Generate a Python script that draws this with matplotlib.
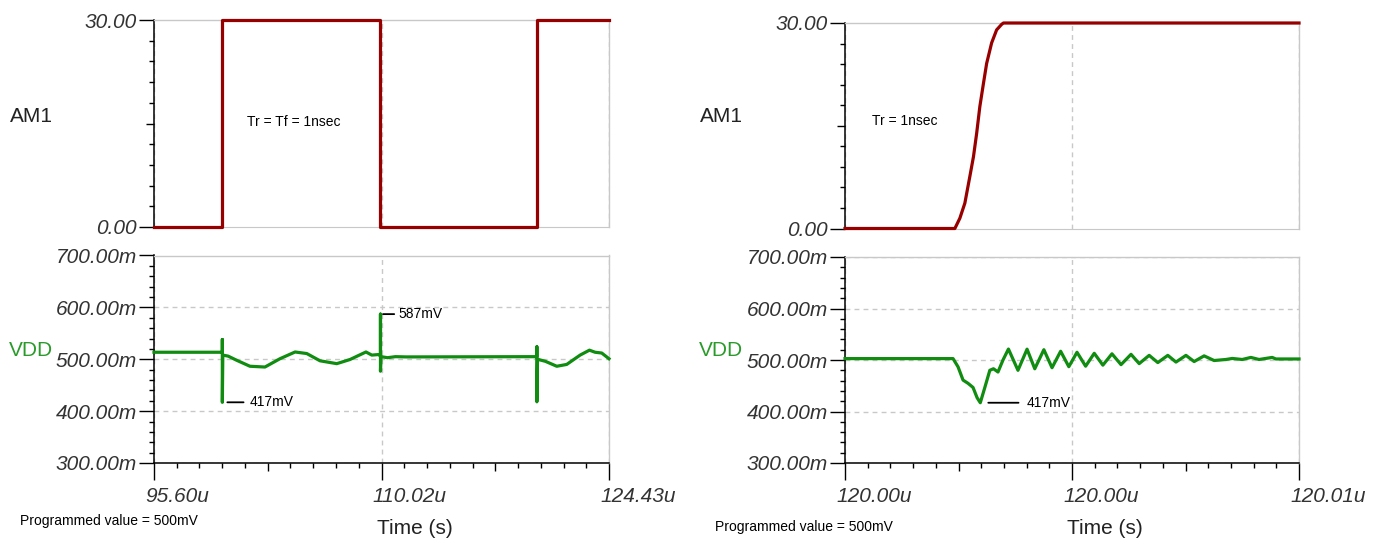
import numpy as np
import matplotlib.pyplot as plt
import matplotlib.transforms as mtransforms
from matplotlib.ticker import FixedLocator, FixedFormatter, NullFormatter

plt.rcParams['font.family'] = ['Liberation Sans', 'DejaVu Sans']

# ---- left pair: square-wave load, time in microseconds
sq_am_t = [95.60, 99.93, 99.93, 109.95, 109.95, 119.86, 119.86, 124.43]
sq_am_v = [0, 0, 30, 30, 0, 0, 30, 30]

sq_vdd_t = [95.60, 99.93, 99.93, 99.93, 99.96, 100.30, 100.84, 101.68, 102.63,
            103.58, 104.54, 105.28, 106.12, 107.18, 108.02, 109.03, 109.40,
            109.80, 109.95, 109.95, 109.95, 109.98, 110.40, 110.90, 111.60,
            119.84, 119.86, 119.86, 119.86, 119.90, 120.40, 121.12, 121.75,
            122.60, 123.19, 123.55, 123.97, 124.43]
sq_vdd_v = [513.5, 513.5, 538, 417, 508, 506, 498, 486.5, 485,
            501, 514, 511, 497, 491.5, 499.5, 514, 508,
            509, 507, 587, 477, 505, 503, 505, 504.5,
            505, 505, 524, 418, 500, 496, 486.5, 490,
            508, 517.5, 513.5, 512, 501]

# ---- right pair: single 1 ns edge, time in ns after 120.00u
edge_am_t = [0, 2.42, 2.53, 2.64, 2.75, 2.83, 2.90, 2.97, 3.05, 3.12, 3.23,
             3.34, 3.45, 3.49, 10]
edge_am_v = [0, 0, 1.5, 3.7, 7.6, 10.5, 13.9, 17.8, 21.2, 24.1, 27.1,
             29.0, 29.8, 30, 30]

edge_vdd_t = [0, 2.38, 2.49, 2.60, 2.71, 2.82, 2.91, 2.98, 3.08, 3.19, 3.27,
              3.37, 3.48, 3.60, 3.81, 4.01, 4.18, 4.38, 4.56, 4.75, 4.93,
              5.11, 5.30, 5.49, 5.68, 5.88, 6.08, 6.30, 6.48, 6.70, 6.89,
              7.11, 7.29, 7.51, 7.69, 7.91, 8.13, 8.39, 8.53, 8.75, 8.94,
              9.12, 9.41, 9.49, 10]
edge_vdd_v = [502.7, 502.7, 486.7, 461, 454.7, 446.7, 426.7, 417, 446.7, 480, 483,
              476.7, 500, 521.3, 480, 521, 483, 520, 485, 517, 487,
              515, 488, 513, 490, 512, 491, 511, 493, 509, 495,
              509, 496, 509, 497, 508, 499, 501, 503, 501, 505,
              501, 505, 502, 502]

sq_xticks = [95.60, 110.015, 124.43]
sq_xlabels = ['95.60u', '110.02u', '124.43u']
edge_xticks = [0, 5, 10]
edge_xlabels = ['120.00u', '120.00u', '120.01u']
am_yticks = [0, 30]
am_ylabels = ['0.00', '30.00']
vdd_yticks = [300, 400, 500, 600, 700]
vdd_ylabels = ['300.00m', '400.00m', '500.00m', '600.00m', '700.00m']

W, H = 1380, 544
RED = '#980000'
GREEN = '#108c10'
GRID = '#c8c8c8'
LABEL = '#333333'

fig = plt.figure(figsize=(W / 100, H / 100), dpi=100)


def rect(x0, y0, x1, y1):
    # pixel box (top-left origin) -> figure fraction
    return [x0 / W, 1 - y1 / H, (x1 - x0) / W, (y1 - y0) / H]


def fpos(x, y):
    return x / W, 1 - y / H


def medium_ticks(axis, locs_medium, size):
    locs = axis.get_minorticklocs()
    ticks = axis.get_minor_ticks(len(locs))
    for loc, tk in zip(locs, ticks):
        if np.any(np.isclose(loc, locs_medium)):
            tk.tick1line.set_markersize(size)


def setup(ax, xlim, xticks, xlabels, ylim, yticks, ylabels, yminor, ymed, bottom):
    ax.set_xlim(xlim)
    ax.set_ylim(ylim)
    for s in ['top', 'right']:
        ax.spines[s].set_color(GRID)
        ax.spines[s].set_linewidth(1.0)
    ax.spines['left'].set_linewidth(1.1)
    ax.xaxis.set_major_locator(FixedLocator(xticks))
    xminor = [v for v in np.linspace(xlim[0], xlim[1], 21)]
    ax.xaxis.set_minor_locator(FixedLocator(xminor))
    ax.yaxis.set_major_locator(FixedLocator(yticks))
    ax.yaxis.set_major_formatter(FixedFormatter(ylabels))
    ax.yaxis.set_minor_locator(FixedLocator(yminor))
    ax.yaxis.set_minor_formatter(NullFormatter())
    ax.tick_params(axis='y', which='major', direction='out', length=11, width=1,
                   pad=1.5, labelsize=15, labelcolor=LABEL)
    ax.tick_params(axis='y', which='minor', direction='out', length=3.5, width=1)
    for lab in ax.get_yticklabels():
        lab.set_fontstyle('italic')
    if ymed is not None:
        medium_ticks(ax.yaxis, [ymed], 5.5)
    ax.grid(True, axis='x', which='major', ls=(0, (3.5, 3)), color=GRID, lw=1)
    if bottom:
        ax.spines['bottom'].set_linewidth(1.1)
        ax.grid(True, axis='y', which='major', ls=(0, (3.5, 3)), color=GRID, lw=1)
        ax.xaxis.set_major_formatter(FixedFormatter(xlabels))
        ax.xaxis.set_minor_formatter(NullFormatter())
        ax.tick_params(axis='x', which='major', direction='out', length=12, width=1,
                       pad=5, labelsize=15, labelcolor=LABEL)
        ax.tick_params(axis='x', which='minor', direction='out', length=3.6, width=1)
        medium_ticks(ax.xaxis, [xminor[5], xminor[15]], 6)
        offset = mtransforms.ScaledTranslation(-9 / 100, 0, fig.dpi_scale_trans)
        for lab in ax.get_xticklabels():
            lab.set_fontstyle('italic')
            lab.set_horizontalalignment('left')
            lab.set_transform(lab.get_transform() + offset)
    else:
        ax.spines['bottom'].set_color(GRID)
        ax.tick_params(axis='x', which='both', length=0, labelbottom=False)
    ax.set_axisbelow(True)


def mark(ax, t, v, text, gap, length, pad):
    # small black leader line next to a peak, then the value text
    k = 0.72
    ax.annotate(text, xy=(t, v), xytext=((gap + length + pad) * k, 0),
                textcoords='offset points', ha='left', va='center', fontsize=10,
                arrowprops=dict(arrowstyle='-', color='black', lw=1.3,
                                shrinkA=pad * k, shrinkB=gap * k, relpos=(0, 0.5)))


am_minor = list(range(3, 30, 3))
vdd_minor = [v for v in range(300, 701, 20) if v % 100]
trace = dict(lw=2.3, zorder=4, clip_on=False, solid_joinstyle='round')

# left top
ax1 = fig.add_axes(rect(154, 20, 609, 227))
ax1.plot(sq_am_t, sq_am_v, color=RED, **trace)
setup(ax1, (95.60, 124.43), sq_xticks, sq_xlabels, (0, 30), am_yticks, am_ylabels,
      am_minor, 15, False)

# left bottom
ax2 = fig.add_axes(rect(154, 255.5, 609, 463))
ax2.plot(sq_vdd_t, sq_vdd_v, color=GREEN, **trace)
setup(ax2, (95.60, 124.43), sq_xticks, sq_xlabels, (300, 700), vdd_yticks, vdd_ylabels,
      vdd_minor, None, True)
mark(ax2, sq_vdd_t[3], sq_vdd_v[3], '417mV', 5, 19, 3)
mark(ax2, sq_vdd_t[19], sq_vdd_v[19], '587mV', 2.5, 14, 1)

# right top
ax3 = fig.add_axes(rect(845, 23, 1299, 228.5))
ax3.plot(edge_am_t, edge_am_v, color=RED, **trace)
setup(ax3, (0, 10), edge_xticks, edge_xlabels, (0, 30), am_yticks, am_ylabels,
      am_minor, 15, False)

# right bottom
ax4 = fig.add_axes(rect(845, 257, 1299, 463))
ax4.plot(edge_vdd_t, edge_vdd_v, color=GREEN, **trace)
setup(ax4, (0, 10), edge_xticks, edge_xlabels, (300, 700), vdd_yticks, vdd_ylabels,
      vdd_minor, None, True)
imin = int(np.argmin(edge_vdd_v))
mark(ax4, edge_vdd_t[imin], edge_vdd_v[imin], '417mV', 8, 33, 5)

# labels and notes
for x0 in (0, 690):
    fig.text(*fpos(10 + x0, 116), 'AM1', ha='left', va='center', fontsize=15, color='#222222')
    fig.text(*fpos(9 + x0, 351), 'VDD', ha='left', va='center', fontsize=15, color='#2a9a2a')
    fig.text(*fpos(415 + x0, 528), 'Time (s)', ha='center', va='center', fontsize=15,
             color='#222222')
fig.text(*fpos(20, 521), 'Programmed value = 500mV', ha='left', va='center', fontsize=10)
fig.text(*fpos(715, 527), 'Programmed value = 500mV', ha='left', va='center', fontsize=10)
fig.text(*fpos(247, 122), 'Tr = Tf = 1nsec', ha='left', va='center', fontsize=10)
fig.text(*fpos(872, 121), 'Tr = 1nsec', ha='left', va='center', fontsize=10)

fig.savefig('out.png', dpi=100)
